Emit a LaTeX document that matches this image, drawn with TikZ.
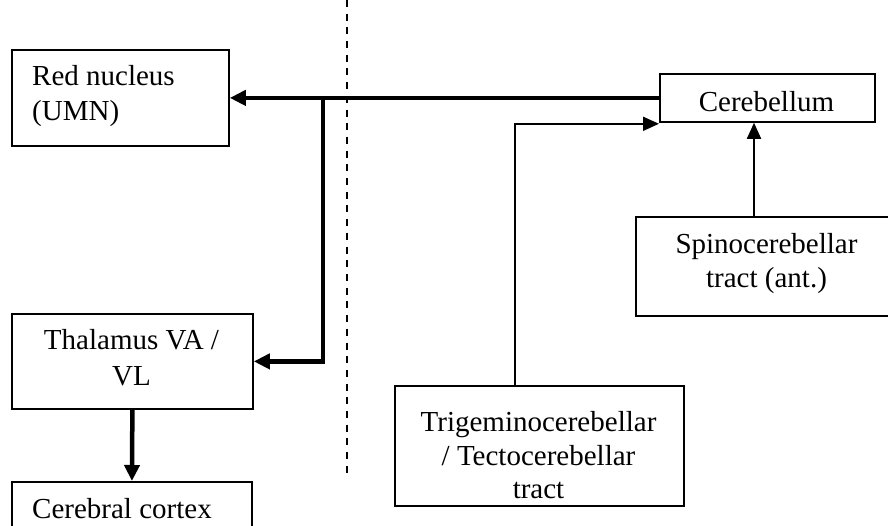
\documentclass[tikz,border=0pt]{standalone}
\usepackage{fontspec}
\setmainfont{Liberation Serif}
\usetikzlibrary{arrows.meta}

\begin{document}
\begin{tikzpicture}[x=1pt,y=-1pt,
  box/.style={draw, line width=1.8pt, rectangle, inner sep=0pt, anchor=north west},
  lbl/.style={inner sep=0pt, anchor=base, font=\fontsize{29}{34}\selectfont},
  lbll/.style={lbl, anchor=base west},
  heavy/.style={line width=4.5pt, -{Triangle[length=16pt,width=15pt]}},
  light/.style={line width=1.8pt, -{Triangle[length=16pt,width=14pt]}},
  divider/.style={line width=1.5pt, dash pattern=on 7pt off 6.7pt}]

\useasboundingbox (0,0) rectangle (888,526);
\clip (0,0) rectangle (888,526);

% boxes
\node[box, minimum width=217pt, minimum height=96pt] (red) at (11,49) {};
\node[box, minimum width=241pt, minimum height=95pt] (thal) at (11,313) {};
\node[box, minimum width=240pt, minimum height=70pt] (cortex) at (11,481) {};
\node[box, minimum width=215pt, minimum height=48pt] (cereb) at (659,73) {};
\node[box, minimum width=262pt, minimum height=99pt] (spino) at (635,216) {};
\node[box, minimum width=289pt, minimum height=120pt] (trig) at (394,385) {};

% labels
\node[lbll] (redA) at (32,86) {Red nucleus};
\node[lbll] (redB) at (32,121) {(UMN)};
\node[lbl] (thalA) at (131.5,349) {Thalamus VA /};
\node[lbl] (thalB) at (131.5,385) {VL};
\node[lbll] (cortexA) at (32,518) {Cerebral cortex};
\node[lbl] (cerebA) at (766.5,112) {Cerebellum};
\node[lbl] (spinoA) at (766.5,254) {Spinocerebellar};
\node[lbl] (spinoB) at (766.5,288) {tract (ant.)};
\node[lbl] (trigA) at (538.5,431) {Trigeminocerebellar};
\node[lbl] (trigB) at (538.5,465) {/ Tectocerebellar};
\node[lbl] (trigC) at (538.5,498) {tract};

% midline divider
\coordinate (dtop) at (347,0);
\coordinate (dbot) at (347,477);
\draw[divider] (dtop) -- (dbot);

% efferent pathway from the cerebellum
\coordinate (split) at (323,97);
\draw[heavy] (cereb.west) -- (red.east);
\draw[heavy] (split) |- (thal.east);
\draw[heavy] (thal.south) -- (cortex.north);

% afferent tracts into the cerebellum
\coordinate (tx) at (515,0);
\coordinate (sx) at (754,0);
\draw[light] (tx |- trig.north) |- ([yshift=-1pt]cereb.south west);
\draw[light] (sx |- spino.north) -- (sx |- cereb.south);
\end{tikzpicture}
\end{document}
